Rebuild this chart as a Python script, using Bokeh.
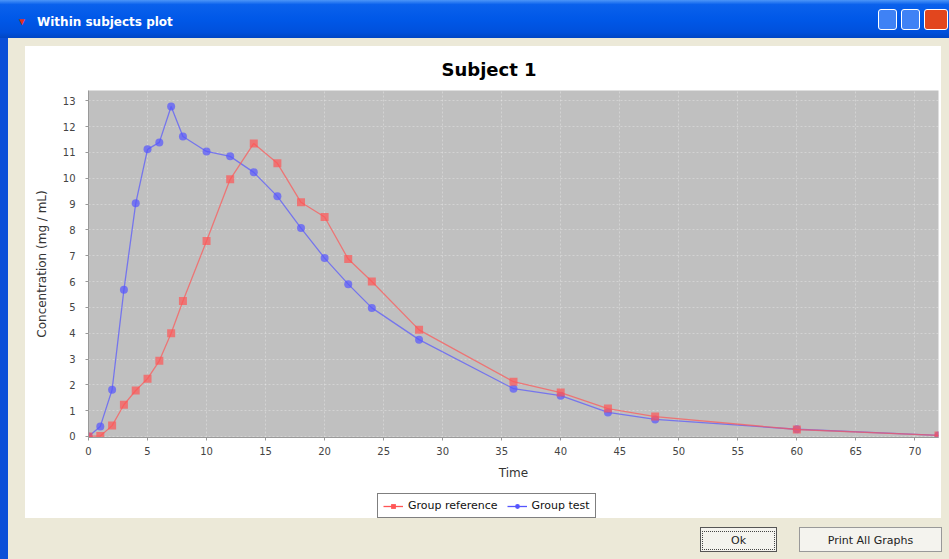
from bokeh.plotting import figure
from bokeh.models import Legend, LegendItem, Div, Range1d, FixedTicker, Title
from bokeh.layouts import column
from bokeh.embed import file_html
from bokeh.resources import INLINE

# ---- data ----
time = [0, 1, 2, 3, 4, 5, 6, 7, 8, 10, 12, 14, 16, 18, 20, 22, 24, 28, 36, 40, 44, 48, 60, 72]
group_reference = [0.0, 0.02, 0.42, 1.23, 1.78, 2.24, 2.93, 4.0, 5.25, 7.57, 9.96, 11.35,
                   10.58, 9.07, 8.5, 6.87, 6.0, 4.13, 2.12, 1.7, 1.08, 0.77, 0.27, 0.04]
group_test = [0.0, 0.39, 1.81, 5.68, 9.03, 11.12, 11.39, 12.78, 11.62, 11.04, 10.85, 10.23,
              9.3, 8.07, 6.91, 5.9, 4.98, 3.75, 1.85, 1.58, 0.93, 0.66, 0.28, 0.04]
x_ticks = list(range(0, 71, 5))
y_ticks = list(range(0, 14))
series_names = ["Group reference", "Group test"]
chart_title = "Subject 1"
window_title = "Within subjects plot"

RED = "#FF5555"
BLUE = "#5555FF"
BEIGE = "#ECE9D8"
XPBLUE = "#0A4FD8"
FONT = "DejaVu Sans"

p = figure(width=916, height=436, output_backend="svg", toolbar_location=None,
           x_range=Range1d(0, 72), y_range=Range1d(-0.04, 13.4),
           min_border_left=63, min_border_right=3, min_border_top=44, min_border_bottom=44)
p.margin = (0, 8, 0, 25)
p.styles = {"background-color": "white"}
p.background_fill_color = "#C0C0C0"
p.border_fill_color = "white"
p.outline_line_color = None

p.title = Title(text=chart_title, align="left", vertical_align="top", text_font=FONT,
                text_font_size="18px", text_font_style="bold", text_color="black",
                offset=353, standoff=18)

for ax in (p.xaxis[0], p.yaxis[0]):
    ax.axis_line_color = "#999999"
    ax.major_tick_line_color = "#999999"
    ax.minor_tick_line_color = None
    ax.major_tick_in = 0
    ax.major_tick_out = 3
    ax.major_label_text_font = FONT
    ax.major_label_text_font_size = "10px"
    ax.major_label_text_color = "#444444"
    ax.axis_label_text_font = FONT
    ax.axis_label_text_font_size = "12px"
    ax.axis_label_text_font_style = "normal"
    ax.axis_label_text_color = "#333333"

p.xaxis[0].ticker = FixedTicker(ticks=x_ticks)
p.yaxis[0].ticker = FixedTicker(ticks=y_ticks)
p.xaxis[0].axis_label = "Time"
p.yaxis[0].axis_label = "Concentration (mg / mL)"
p.xaxis[0].major_label_standoff = 6
p.yaxis[0].major_label_standoff = 10
p.xaxis[0].axis_label_standoff = 8
p.yaxis[0].axis_label_standoff = 11

p.xgrid.ticker = FixedTicker(ticks=x_ticks)
p.ygrid.ticker = FixedTicker(ticks=y_ticks)
for g in (p.xgrid[0], p.ygrid[0]):
    g.grid_line_color = "white"
    g.grid_line_alpha = 0.3
    g.grid_line_dash = "2 2"
    g.grid_line_width = 1

# test first (drawn beneath), reference on top
line_style = dict(line_alpha=0.7, line_width=1.3)
marker_style = dict(size=8, fill_alpha=0.7, line_color=None)
p.line(time, group_test, line_color=BLUE, **line_style)
p.scatter(time, group_test, marker="circle", fill_color=BLUE, **marker_style)
p.line(time, group_reference, line_color=RED, **line_style)
p.scatter(time, group_reference, marker="square", fill_color=RED, **marker_style)

# ---- legend strip below the chart (same series, drawn outside this strip's view) ----
leg = figure(width=916, height=36, output_backend="svg", toolbar_location=None,
             x_range=Range1d(-1000, -999), y_range=Range1d(-1000, -999), min_border=0,
             x_axis_location=None, y_axis_location=None)
leg.margin = (0, 8, 0, 25)
leg.styles = {"background-color": "white"}
leg.background_fill_color = "white"
leg.border_fill_color = "white"
leg.outline_line_color = None
leg.grid.visible = False
lr = leg.line(time, group_reference, line_color=RED, line_alpha=1.0, line_width=1.3)
sr = leg.scatter(time, group_reference, marker="square", size=8, fill_color=RED,
                 fill_alpha=1.0, line_color=None)
lt = leg.line(time, group_test, line_color=BLUE, line_alpha=1.0, line_width=1.3)
st = leg.scatter(time, group_test, marker="circle", size=8, fill_color=BLUE,
                 fill_alpha=1.0, line_color=None)

legend = Legend(items=[LegendItem(label=series_names[0], renderers=[lr, sr]),
                       LegendItem(label=series_names[1], renderers=[lt, st])],
                orientation="horizontal", location=(289, 0),
                border_line_color="black", border_line_width=1,
                background_fill_color="white", background_fill_alpha=1.0,
                label_text_font=FONT, label_text_font_size="11px", label_text_color="#111111",
                glyph_width=20, glyph_height=12, spacing=9, padding=5, margin=0,
                label_standoff=5)
leg.add_layout(legend)

title_html = f"""
<div style="width:949px;height:46px;position:relative;background:{BEIGE};
  border-left:8px solid {XPBLUE};box-sizing:border-box;">
 <div style="position:absolute;left:-8px;top:0;width:949px;height:38px;
   background:linear-gradient(to bottom,#4C95F8 0%,#0A61EC 12%,#0058E8 50%,#0050DC 85%,#0046C4 100%);">
  <span style="position:absolute;left:17px;top:15px;color:#E03020;font-size:10px;">&#9660;</span>
  <span style="position:absolute;left:37px;top:14px;color:white;font-family:'DejaVu Sans';
    font-weight:bold;font-size:12px;">{window_title}</span>
  <span style="position:absolute;left:878px;top:9px;width:19px;height:21px;border-radius:3px;
    background:#3F82F5;border:1px solid white;"></span>
  <span style="position:absolute;left:901px;top:9px;width:19px;height:21px;border-radius:3px;
    background:#3F82F5;border:1px solid white;"></span>
  <span style="position:absolute;left:924px;top:9px;width:24px;height:21px;border-radius:3px;
    background:#E2461E;border:1px solid white;"></span>
 </div>
</div>"""
title_div = Div(text=title_html, width=949, height=46, margin=(0, 0, 0, 0))

bottom_html = f"""
<div style="width:949px;height:41px;position:relative;background:{BEIGE};
  border-left:8px solid {XPBLUE};box-sizing:border-box;">
 <div style="position:absolute;left:692px;top:9px;width:77px;height:25px;background:#F4F3EE;
   border:1px solid #555;font-family:'DejaVu Sans';font-size:11px;text-align:center;
   line-height:25px;color:#222;"><span style="border:1px dotted #444;padding:2px 28px;">Ok</span></div>
 <div style="position:absolute;left:791px;top:9px;width:143px;height:25px;background:#F4F3EE;
   border:1px solid #999;font-family:'DejaVu Sans';font-size:11px;text-align:center;
   line-height:25px;color:#222;">Print All Graphs</div>
</div>"""
bottom_div = Div(text=bottom_html, width=949, height=41, margin=(0, 0, 0, 0))

layout = column(title_div, p, leg, bottom_div, spacing=0,
                styles={"background": f"linear-gradient(to right, {XPBLUE} 0px, {XPBLUE} 8px, {BEIGE} 8px)"})

open("out.html", "w").write(file_html(layout, INLINE))
